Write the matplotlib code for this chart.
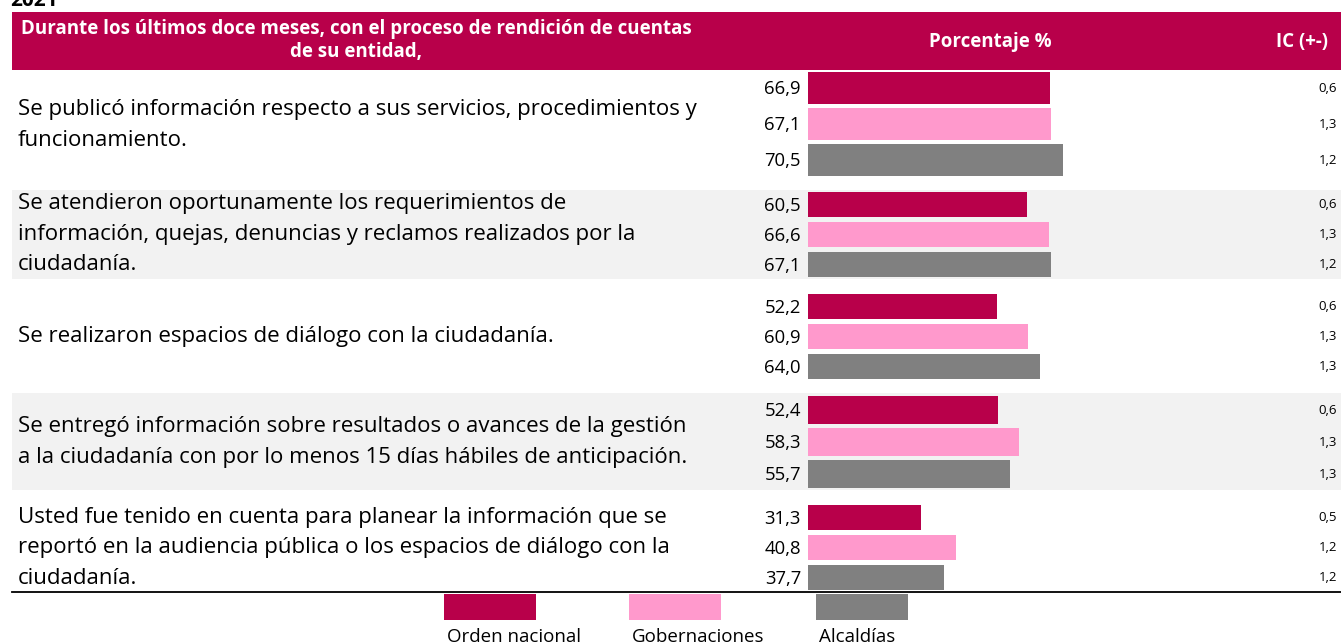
import numpy as np
import matplotlib
matplotlib.use("Agg")
import matplotlib.pyplot as plt
from matplotlib.patches import Rectangle

# data
questions = [
    "Se publicó información respecto a sus servicios, procedimientos y\nfuncionamiento.",
    "Se atendieron oportunamente los requerimientos de\ninformación, quejas, denuncias y reclamos realizados por la\nciudadanía.",
    "Se realizaron espacios de diálogo con la ciudadanía.",
    "Se entregó información sobre resultados o avances de la gestión\na la ciudadanía con por lo menos 15 días hábiles de anticipación.",
    "Usted fue tenido en cuenta para planear la información que se\nreportó en la audiencia pública o los espacios de diálogo con la\nciudadanía.",
]
series = ["Orden nacional", "Gobernaciones", "Alcaldías"]
orden_nacional = [66.9, 60.5, 52.2, 52.4, 31.3]
gobernaciones = [67.1, 66.6, 60.9, 58.3, 40.8]
alcaldias = [70.5, 67.1, 64.0, 55.7, 37.7]
ic_orden = [0.6, 0.6, 0.6, 0.6, 0.5]
ic_gober = [1.3, 1.3, 1.3, 1.3, 1.2]
ic_alcal = [1.2, 1.2, 1.3, 1.3, 1.2]

crimson = '#B8004A'
pink = '#FF99CC'
grey = '#808080'
lightgrey = '#F2F2F2'
colors = [crimson, pink, grey]

W, H = 1341, 644
# row layout in pixels: (row top, row bottom, first bar top, bar height, bar pitch, text centre)
rows = [
    (70, 190, 72, 32, 36, 125),
    (190, 279, 192, 25, 30, 234),
    (279, 393, 294, 25, 30, 336),
    (393, 490, 396, 28, 32, 442),
    (490, 592, 505, 25, 30, 548),
]
BAR_X0 = 808
PX_PER_PCT = 3.62

font = "Open Sans"

fig = plt.figure(figsize=(W / 100, H / 100), dpi=100, facecolor='white')
ax0 = fig.add_axes([0, 0, 1, 1])
ax0.set_xlim(0, W)
ax0.set_ylim(H, 0)
ax0.axis('off')

# header
ax0.add_patch(Rectangle((12, 12), W - 12, 58, facecolor=crimson, edgecolor='none'))
ax0.text(356, 40, "Durante los últimos doce meses, con el proceso de rendición de cuentas\nde su entidad,",
         ha='center', va='center', color='white', fontsize=13.5, fontweight='bold',
         family=font, linespacing=1.2)
ax0.text(990, 42, "Porcentaje %", ha='center', va='center', color='white', fontsize=13.5,
         fontweight='bold', family=font)
ax0.text(1328, 42, "IC (+-)", ha='right', va='center', color='white', fontsize=13.5,
         fontweight='bold', family=font)
ax0.text(10, 0, "2021", ha='left', va='center', color='black', fontsize=15,
         fontweight='bold', family=font)

# row backgrounds and question text
for i, (top, bot, b0, bh, bp, tc) in enumerate(rows):
    if i % 2 == 1:
        ax0.add_patch(Rectangle((12, top), W - 12, bot - top, facecolor=lightgrey, edgecolor='none'))
    ax0.text(18, tc, questions[i], ha='left', va='center', fontsize=16,
             family=font, color='black', linespacing=1.62)

ax0.plot([12, W], [592, 592], color='black', lw=1.3)

# bars
ax = fig.add_axes([BAR_X0 / W, 0, 1 - BAR_X0 / W, 1])
ax.set_xlim(0, (W - BAR_X0) / PX_PER_PCT)
ax.set_ylim(H, 0)
ax.axis('off')
ax.patch.set_alpha(0)

values = [orden_nacional, gobernaciones, alcaldias]
ics = [ic_orden, ic_gober, ic_alcal]
for i, (top, bot, b0, bh, bp, tc) in enumerate(rows):
    for j in range(3):
        yc = b0 + j * bp + bh / 2
        ax.barh(yc, values[j][i], height=bh, left=0, color=colors[j], edgecolor='none')
        ax0.text(801, yc + 1, f"{values[j][i]:.1f}".replace('.', ','), ha='right', va='center',
                 fontsize=13.3, family=font, color='black')
        ax0.text(1337, yc, f"{ics[j][i]:.1f}".replace('.', ','), ha='right', va='center',
                 fontsize=9.5, family=font, color='black')

# legend
leg_x = [444, 629, 816]
for k in range(3):
    ax0.add_patch(Rectangle((leg_x[k], 594), 92, 26, facecolor=colors[k], edgecolor='none'))
    ax0.text(leg_x[k] + 3, 637, series[k], ha='left', va='center', fontsize=13.5,
             family=font, color='black')

fig.savefig("out.png", dpi=100, facecolor='white')
